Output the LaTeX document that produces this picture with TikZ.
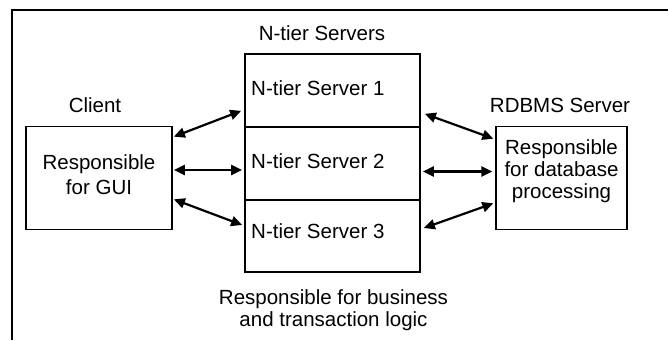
\documentclass[tikz,border=0pt]{standalone}
\usepackage{fontspec}
\setmainfont{Liberation Sans}
\usetikzlibrary{arrows.meta,calc}
\begin{document}
\begin{tikzpicture}[x=1pt,y=-1pt,
  box/.style={draw,line width=1.7pt,inner sep=0pt},
  lbl/.style={inner sep=0pt,font=\fontsize{20.5}{22}\selectfont},
  biarrow/.style={{Triangle[length=11pt,width=10pt]}-{Triangle[length=11pt,width=10pt]},line width=2.2pt}]
\useasboundingbox (0,0) rectangle (668,340);
\draw[line width=1.3pt] (12,340) -- (12,10) -- (668,10);
% boxes
\node[box,minimum width=146pt,minimum height=103pt] (client) at (99,178) {};
\node[box,minimum width=175pt,minimum height=73pt] (s1) at (332.5,90.5) {};
\node[box,minimum width=175pt,minimum height=73pt] (s2) at (332.5,163.5) {};
\node[box,minimum width=175pt,minimum height=72pt] (s3) at (332.5,236) {};
\node[box,minimum width=131pt,minimum height=103pt] (db) at (561.7,178) {};
% labels
\node[lbl,anchor=base] (tclient) at (95,112) {Client};
\node[lbl,anchor=base] (tdb) at (560,112) {RDBMS Server};
\node[lbl,anchor=base] (tservers) at (322,40) {N-tier Servers};
\node[lbl,anchor=base west] (t1) at (251,95) {N-tier Server 1};
\node[lbl,anchor=base west] (t2) at (251,168) {N-tier Server 2};
\node[lbl,anchor=base west] (t3) at (251,238) {N-tier Server 3};
\node[lbl,anchor=north,align=center,font=\fontsize{20.5}{25}\selectfont] (cgui) at (99,154.3) {Responsible\\for GUI};
\node[lbl,anchor=north,align=center,font=\fontsize{20.5}{22}\selectfont] (dbtext) at (561.5,139.6) {Responsible\\for database\\processing};
\node[lbl,anchor=north,align=center,font=\fontsize{20.5}{22}\selectfont] (btext) at (333.5,289.3) {Responsible for business\\and transaction logic};
% connectors
\draw[biarrow] ($(client.north east)+(1,11)$) -- ($(s1.south west)+(-3,-17)$);
\draw[biarrow] ($(client.east)+(1,-8)$) -- ($(s2.west)+(-2,6.5)$);
\draw[biarrow] ($(client.south east)+(1,-31)$) -- ($(s3.west)+(-2,-11)$);
\draw[biarrow] ($(s1.south east)+(4,-14)$) -- ($(db.north west)+(-2,13)$);
\draw[biarrow] ($(s2.east)+(2,8)$) -- ($(db.west)+(-3,-6.5)$);
\draw[biarrow] ($(s3.east)+(3,-8)$) -- ($(db.south west)+(-2,-27)$);
\end{tikzpicture}
\end{document}
